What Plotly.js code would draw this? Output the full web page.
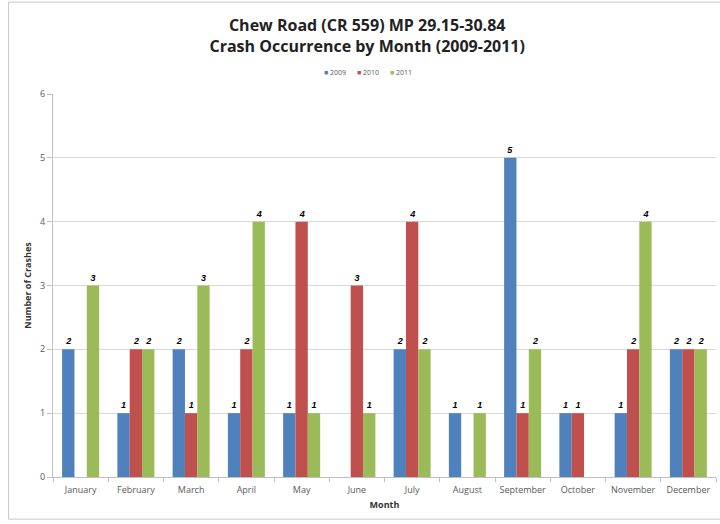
<!DOCTYPE html>
<html><head><meta charset="utf-8">
<script src="https://cdn.plot.ly/plotly-3.0.1.min.js"></script>
<style>html,body{margin:0;padding:0;background:#fff}#c{width:720px;height:524px}</style>
</head><body><div id="c"></div>
<script>
const months = ["January","February","March","April","May","June","July","August","September","October","November","December"];
const years = ["2009","2010","2011"];
const v2009 = [2,1,2,1,1,0,2,1,5,1,1,2];
const v2010 = [0,2,1,2,4,3,4,0,1,1,2,2];
const v2011 = [3,2,3,4,1,1,2,1,2,0,4,2];
const colors = ["#4F81BD","#C0504D","#9BBB59"];
const series = [v2009, v2010, v2011];

const traces = series.map((vals, i) => ({
  type: "bar",
  name: years[i],
  x: months,
  y: vals,
  marker: {color: colors[i]},
  text: vals.map(v => v > 0 ? "<b><i>" + v + "</i></b>" : ""),
  textposition: "outside",
  textfont: {family: "Liberation Sans, Arial", size: 9, color: "#000"},
  cliponaxis: false,
  hoverinfo: "none",
  showlegend: false
}));

const legendText = years.map((y, i) =>
  "<span style='color:" + colors[i] + "'>■</span> " + y).join("      ");

const layout = {
  width: 720, height: 524,
  margin: {l: 53, r: 4, t: 94, b: 47},
  paper_bgcolor: "#fff", plot_bgcolor: "#fff",
  font: {family: "Open Sans, Liberation Sans, Arial", color: "#595959"},
  title: {
    text: "<b>Chew Road (CR 559) MP 29.15-30.84<br>Crash Occurrence by Month (2009-2011)</b>",
    font: {family: "Open Sans, Liberation Sans, Arial", size: 16, color: "#222"},
    x: 0.51, xanchor: "center", y: 0.94, yanchor: "top"
  },
  barmode: "group",
  bargap: 0.33, bargroupgap: 0,
  annotations: [{
    xref: "paper", yref: "paper", x: 0.475, y: 1.057, xanchor: "center", yanchor: "middle",
    showarrow: false, text: legendText, font: {size: 7, color: "#595959"}
  }],
  xaxis: {
    title: {text: "<b>Month</b>", font: {size: 9, color: "#333"}, standoff: 6},
    tickfont: {size: 9, color: "#595959"}, tickangle: 0, ticklabelstandoff: 4,
    showline: true, linecolor: "#bfbfbf", linewidth: 1,
    ticks: "outside", tickson: "boundaries", ticklen: 4, tickcolor: "#bfbfbf",
    showgrid: false, fixedrange: true
  },
  yaxis: {
    title: {text: "<b>Number of Crashes</b>", font: {size: 9, color: "#333"}, standoff: 6},
    range: [0, 6], dtick: 1,
    tickfont: {size: 9, color: "#595959"},
    showgrid: true, gridcolor: "#d9d9d9", gridwidth: 1,
    showline: true, linecolor: "#bfbfbf", zeroline: false,
    ticks: "outside", ticklen: 5, tickcolor: "#bfbfbf"
  },
  shapes: [{type: "rect", xref: "paper", yref: "paper", x0: -0.067, x1: 1.01, y0: -0.11, y1: 1.24,
    line: {color: "#c8c8c8", width: 1}}]
};

Plotly.newPlot("c", traces, layout, {staticPlot: true});
</script>
</body></html>
